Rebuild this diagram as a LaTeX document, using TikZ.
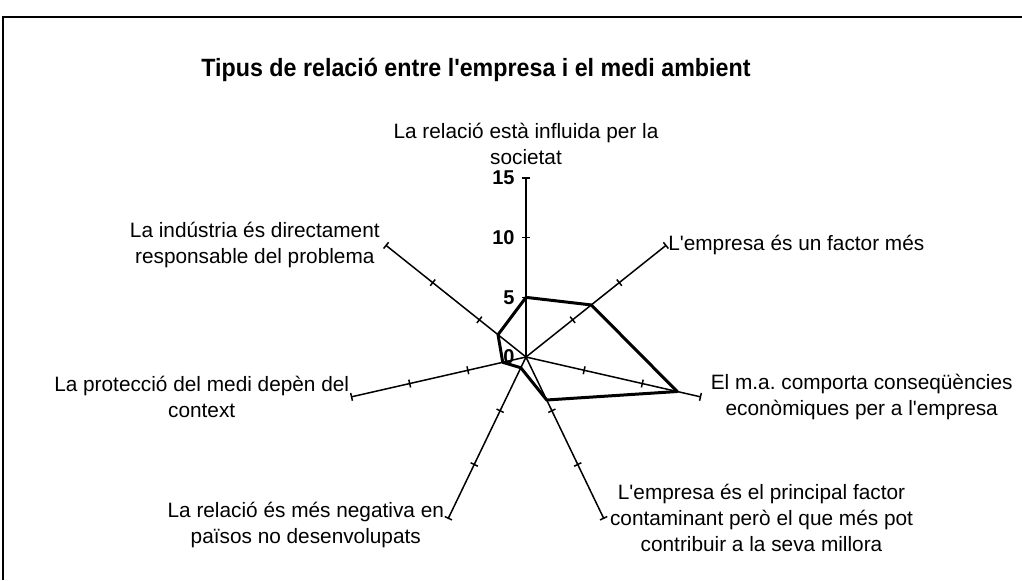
\documentclass[tikz,border=0pt]{standalone}
\usepackage{fontspec}
\setmainfont{Liberation Sans}[Ligatures=TeXOff]
\usetikzlibrary{calc,positioning}
\frenchspacing

\def\rr{11.93}
\tikzset{
  axisline/.style={line width=0.75pt},
  datapoly/.style={line width=1.5pt,line join=round},
  lbl/.style={align=center,font=\fontsize{10.4}{13}\selectfont,inner sep=1pt},
  ticklbl/.style={anchor=east,font=\fontsize{10}{12}\selectfont\bfseries,inner sep=0pt}
}

\begin{document}
\begin{tikzpicture}[x=0.5pt,y=0.5pt]
\useasboundingbox (-526,-223) rectangle (496,357);
% frame
\draw[line width=0.8pt] (496,340) -- (-523,340) -- (-523,-223);

\node[font=\fontsize{12.5}{15}\selectfont\bfseries\addfontfeatures{FakeStretch=0.93}]
(title) at (-50,287) {Tipus de relació entre l'empresa i el medi ambient};

% axes with ticks
\foreach\k/\v in {0/5,1/7,2/13,3/4,4/1,5/2,6/3}{
\begin{scope}[rotate=90-\k*360/7]
\draw[axisline] (0,0)--(15*\rr,0);
\foreach\t in {5,10,15}
\draw[axisline] (\t*\rr,-4)--(\t*\rr,4);
\coordinate (a\k) at (15*\rr,0);
\coordinate (d\k) at (\v*\rr,0);
\end{scope}
}
\draw[line width=1pt] (0,0)--(a0);

% data
\draw[datapoly] (d0)--(d1)--(d2)--(d3)--(d4)--(d5)--(d6)--cycle;

% scale numbers
\node[ticklbl] (n0) at (-11,0) {0};
\node[ticklbl] (n5) at (-11,5*\rr) {5};
\node[ticklbl] (n10) at (-11,10*\rr) {10};
\node[ticklbl] (n15) at (-11,15*\rr) {15};

% labels
\node[lbl,anchor=south] (l0) at (0,190)
{La relació està influida per la\\ societat};
\node[lbl,anchor=west] (l1) at (a1)
{L'empresa és un factor més};
\node[lbl,anchor=west,xshift=4] (l2) at (a2)
{El m.a. comporta conseqüències\\ econòmiques per a l'empresa};
\node[lbl,anchor=west,xshift=2] (l3) at (a3)
{L'empresa és el principal factor\\ contaminant però el que més pot\\ contribuir a la seva millora};
\node[lbl,anchor=east,xshift=-1,yshift=-3.5] (l4) at (a4)
{La relació és més negativa en\\ països no desenvolupats};
\node[lbl,anchor=east] (l5) at (a5)
{La protecció del medi depèn del\\ context};
\node[lbl,anchor=east,xshift=-2] (l6) at (a6)
{La indústria és directament\\ responsable del problema};
\end{tikzpicture}
\end{document}
